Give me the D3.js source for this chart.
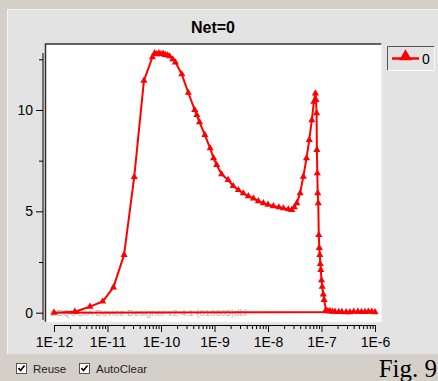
<!DOCTYPE html>
<html><head><meta charset="utf-8">
<script src="https://cdn.jsdelivr.net/npm/d3@7"></script>
<style>
html,body{margin:0;padding:0;background:#d4d0c8;}
svg{display:block;font-family:Arial,"Liberation Sans",sans-serif;}
</style></head>
<body><svg id="c" width="438" height="381"></svg>
<script>
const title = "Net=0";
const seriesName = "0";
const xValues = [1.0e-12,2.45e-12,4.7e-12,8.1e-12,1.29e-11,2.04e-11,3.16e-11,4.8e-11,6.9e-11,7.6e-11,8.3e-11,9.1e-11,1.0e-10,1.1e-10,1.2e-10,1.32e-10,1.45e-10,1.66e-10,1.86e-10,2.45e-10,3.24e-10,4.27e-10,4.68e-10,5.25e-10,6.6e-10,8.3e-10,9.6e-10,1.1e-9,1.36e-9,1.8e-9,2.24e-9,2.8e-9,3.45e-9,4.3e-9,5.35e-9,6.6e-9,8.2e-9,1.0e-8,1.26e-8,1.6e-8,1.94e-8,2.4e-8,2.78e-8,3.1e-8,3.45e-8,3.98e-8,4.57e-8,5.25e-8,5.9e-8,6.6e-8,7.2e-8,7.7e-8,7.9e-8,8.1e-8,8.2e-8,8.35e-8,8.5e-8,8.7e-8,8.9e-8,9.1e-8,9.3e-8,9.5e-8,9.7e-8,1.0e-7,1.03e-7,1.08e-7,1.12e-7,1.21e-7,1.32e-7,1.44e-7,1.6e-7,1.78e-7,2.1e-7,2.4e-7,2.9e-7,3.4e-7,4.0e-7,4.8e-7,5.6e-7,6.5e-7,7.5e-7,8.7e-7,1.0e-6,1.0e-12];
const yValues = [0.0,0.05,0.3,0.55,1.25,2.85,6.7,11.45,12.6,12.8,12.75,12.8,12.75,12.78,12.72,12.7,12.65,12.5,12.35,11.76,10.85,10.0,9.75,9.4,8.77,8.11,7.62,7.29,6.83,6.55,6.25,6.05,5.89,5.75,5.64,5.5,5.40,5.33,5.26,5.2,5.15,5.1,5.07,5.2,5.40,5.89,6.71,7.62,8.52,9.5,10.41,10.82,10.5,9.84,8.03,6.88,5.9,5.40,3.83,3.2,2.85,2.4,2.11,1.6,1.28,0.9,0.63,0.13,0.08,0.08,0.05,0.05,0.04,0.04,0.03,0.03,0.05,0.05,0.04,0.04,0.05,0.05,0.03,0.0];
const xMajorTicks = [1e-12,1e-11,1e-10,1e-9,1e-8,1e-7,1e-6];
const xTickLabels = ["1E-12","1E-11","1E-10","1E-9","1E-8","1E-7","1E-6"];
const yMajorTicks = [0,5,10];
const yMinorTicks = [2.5,7.5,12.5];
const watermark = "SEQUOIA Device Designer v2.4.1 (010605)dbl";
const checkLabels = ["Reuse","AutoClear"];
const figLabel = "Fig. 9";

const svg = d3.select("#c");
const red = "#ff0000";

// backgrounds
svg.append("rect").attr("x",0).attr("y",0).attr("width",438).attr("height",381).attr("fill","#d4d0c8");
svg.append("rect").attr("x",7).attr("y",9).attr("width",431).attr("height",345).attr("fill","#e3e3e3");
svg.append("line").attr("x1",7).attr("x2",438).attr("y1",9.5).attr("y2",9.5).attr("stroke","#f4f4f4");
svg.append("line").attr("x1",7.5).attr("x2",7.5).attr("y1",9).attr("y2",354).attr("stroke","#f4f4f4");

// title
svg.append("text").attr("x",213).attr("y",33).attr("text-anchor","middle")
  .attr("font-size",16).attr("font-weight","bold").attr("fill","#000").text(title);

// scales
const x = d3.scaleLog().domain([1e-12,1e-6]).range([54,375]);
const y = d3.scaleLinear().domain([0,12.5]).range([312.7,59.3]);

// plot area
const pL=45.5, pT=44, pR=381.5, pB=322;
svg.append("rect").attr("x",pL).attr("y",pT).attr("width",pR-pL).attr("height",pB-pT).attr("fill","#fff");
svg.append("path").attr("d",`M${pL},${pB}V${pT}H${pR}`).attr("fill","none").attr("stroke","#333").attr("stroke-width",1.5);
svg.append("path").attr("d",`M${pL},${pB}H${pR}V${pT}`).attr("fill","none").attr("stroke","#f0f0f0").attr("stroke-width",1);

// watermark
svg.append("text").attr("x",50).attr("y",316).attr("font-size",9.5).attr("fill","#b8b8b8").text(watermark);

// y axis
const yAxisMajor = d3.axisLeft(y).tickValues(yMajorTicks).tickSize(7).tickPadding(3).tickFormat(d3.format("d"));
const yAxisMinor = d3.axisLeft(y).tickValues(yMinorTicks).tickSize(4).tickFormat("");
const gy = svg.append("g").attr("transform","translate(43,0)").call(yAxisMajor);
svg.append("g").attr("transform","translate(43,0)").call(yAxisMinor);
svg.selectAll(".domain").remove();
svg.append("line").attr("x1",43).attr("x2",43).attr("y1",53).attr("y2",320).attr("stroke","#000");
gy.selectAll("text").attr("font-size",14).attr("fill","#000").attr("font-family","Arial, 'Liberation Sans', sans-serif");

// x axis
const xMinorTicks = [];
xMajorTicks.slice(0,-1).forEach(d=>{ [2,3,4,5,6,7,8,9].forEach(m=>xMinorTicks.push(d*m)); });
const xAxisMajor = d3.axisBottom(x).tickValues(xMajorTicks).tickSize(7).tickPadding(5)
  .tickFormat((d,i)=>xTickLabels[i]);
const xAxisMinor = d3.axisBottom(x).tickValues(xMinorTicks).tickSize(4).tickFormat("");
const gx = svg.append("g").attr("transform","translate(0,325)").call(xAxisMajor);
const gx2 = svg.append("g").attr("transform","translate(0,325)").call(xAxisMinor);
gx.select(".domain").remove(); gx2.select(".domain").remove();
svg.append("line").attr("x1",54).attr("x2",375).attr("y1",325.5).attr("y2",325.5).attr("stroke","#000");
gx.selectAll("text").attr("font-size",14).attr("fill","#000").attr("font-family","Arial, 'Liberation Sans', sans-serif");

// series
const data = xValues.map((v,i)=>({x:v,y:yValues[i]}));
svg.append("path").datum(data)
  .attr("d",d3.line().x(d=>x(d.x)).y(d=>y(d.y)))
  .attr("fill","none").attr("stroke",red).attr("stroke-width",2).attr("stroke-linejoin","round");
const tri = d3.symbol().type(d3.symbolTriangle).size(22);
svg.append("g").selectAll("path").data(data.slice(0,-1)).join("path")
  .attr("d",tri).attr("transform",d=>`translate(${x(d.x)},${y(d.y)})`).attr("fill",red);

// legend
svg.append("rect").attr("x",387.5).attr("y",46.5).attr("width",47).attr("height",24).attr("fill","#e3e3e3").attr("stroke","none");
svg.append("path").attr("d","M387.5,70.5V46.5H434.5").attr("fill","none").attr("stroke","#555");
svg.append("path").attr("d","M387.5,70.5H434.5V46.5").attr("fill","none").attr("stroke","#fafafa");
svg.append("line").attr("x1",392).attr("x2",419).attr("y1",58.5).attr("y2",58.5).attr("stroke",red).attr("stroke-width",2.5);
svg.append("path").attr("d",d3.symbol().type(d3.symbolTriangle).size(70)).attr("transform","translate(405.5,56.5)").attr("fill",red);
svg.append("text").attr("x",422).attr("y",63.5).attr("font-size",14).attr("fill","#000").text(seriesName);

// bottom bar checkboxes
const cbX = [16,79];
checkLabels.forEach((t,i)=>{
  const g = svg.append("g").attr("transform",`translate(${cbX[i]},363)`);
  g.append("rect").attr("x",0.5).attr("y",0.5).attr("width",10).attr("height",10).attr("fill","#fff").attr("stroke","#555");
  g.append("path").attr("d","M2.5,5 L4.5,7.5 L8.5,2.5").attr("fill","none").attr("stroke","#000").attr("stroke-width",1.6);
  g.append("text").attr("x",17).attr("y",10).attr("font-size",11.5).attr("fill","#222").text(t);
});
svg.append("text").attr("x",437).attr("y",377).attr("text-anchor","end")
  .attr("font-family","'Liberation Serif','Times New Roman',serif").attr("font-size",25).attr("fill","#000").text(figLabel);
</script></body></html>
